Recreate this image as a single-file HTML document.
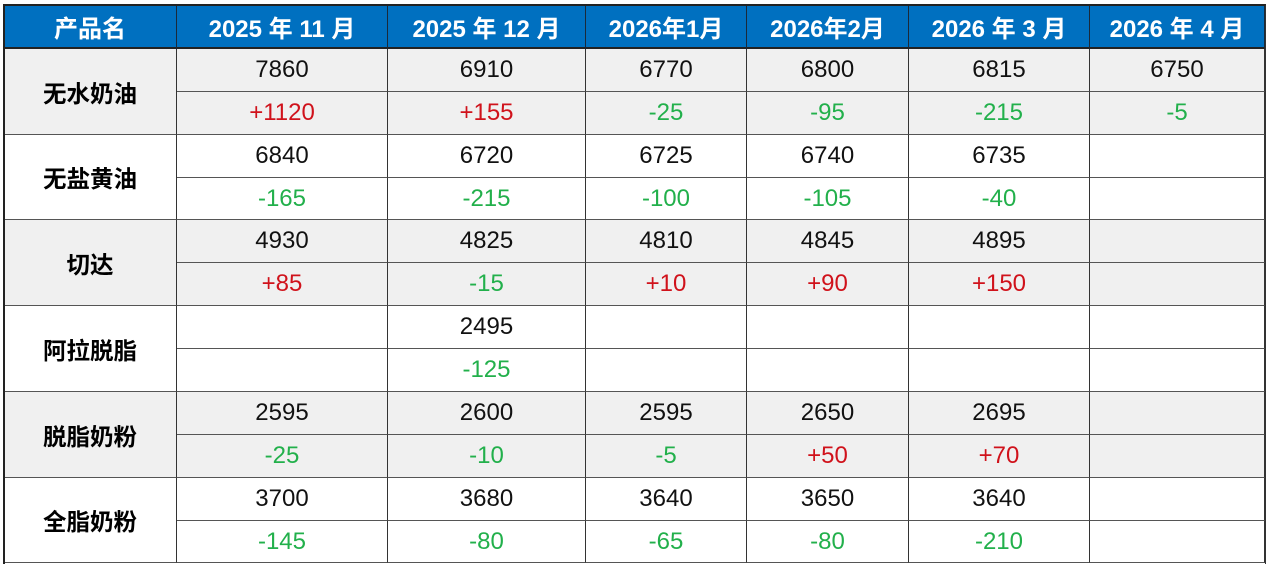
<!DOCTYPE html>
<html><head><meta charset="utf-8"><style>
body{margin:0;width:1268px;height:565px;background:#fff;overflow:hidden;font-family:"Liberation Sans","Noto Sans CJK SC",sans-serif;}
.c{position:absolute;box-sizing:border-box;display:flex;align-items:center;justify-content:center;border-right:1px solid #333;border-bottom:1px solid #555;}
.h{background:#0070c0;color:#fff;font-weight:bold;font-size:24px;border-right:1px solid #1a2a3a;border-bottom:2px solid #222;}
.n{font-size:24px;color:#111;}
.r{color:#d0121b;font-size:24px;}
.g{color:#22b04b;font-size:24px;}
.p{font-weight:bold;font-size:23.5px;color:#000;}
.gr{background:#f0f0f0;}
</style></head><body>
<script>
var X=[4,177,388,586,747,909,1090,1265];
var H=["产品名","2025 年 11 月","2025 年 12 月","2026年1月","2026年2月","2026 年 3 月","2026 年 4 月"];
var D=[
["无水奶油",["7860","6910","6770","6800","6815","6750"],["+1120","+155","-25","-95","-215","-5"]],
["无盐黄油",["6840","6720","6725","6740","6735",""],["-165","-215","-100","-105","-40",""]],
["切达",["4930","4825","4810","4845","4895",""],["+85","-15","+10","+90","+150",""]],
["阿拉脱脂",["","2495","","","",""],["","-125","","","",""]],
["脱脂奶粉",["2595","2600","2595","2650","2695",""],["-25","-10","-5","+50","+70",""]],
["全脂奶粉",["3700","3680","3640","3650","3640",""],["-145","-80","-65","-80","-210",""]]];
var s="";
function cell(x,y,w,h,cls,txt){s+='<div class="c '+cls+'" style="left:'+x+'px;top:'+y+'px;width:'+w+'px;height:'+h+'px">'+txt+'</div>';}
for(var i=0;i<7;i++)cell(X[i],5,X[i+1]-X[i],44,"h",H[i]);
for(var r=0;r<6;r++){var y=49+r*85.7,y0=Math.round(y),y1=Math.round(y+43),y2=Math.round(y+85.7);var gc=r%2==0?" gr":"";
cell(X[0],y0,X[1]-X[0],y2-y0,"p"+gc,D[r][0]);
for(var i=1;i<7;i++){cell(X[i],y0,X[i+1]-X[i],y1-y0,"n"+gc,D[r][1][i-1]);var v=D[r][2][i-1];cell(X[i],y1,X[i+1]-X[i],y2-y1,(v[0]=="+"?"r":"g")+gc,v);}}
s+='<div style="position:absolute;left:3px;top:4px;width:1263px;height:560px;box-sizing:border-box;border-left:2px solid #222;border-top:2px solid #222;border-right:1px solid #333;"></div>';
document.body.insertAdjacentHTML("beforeend",s);
</script>
</body></html>
